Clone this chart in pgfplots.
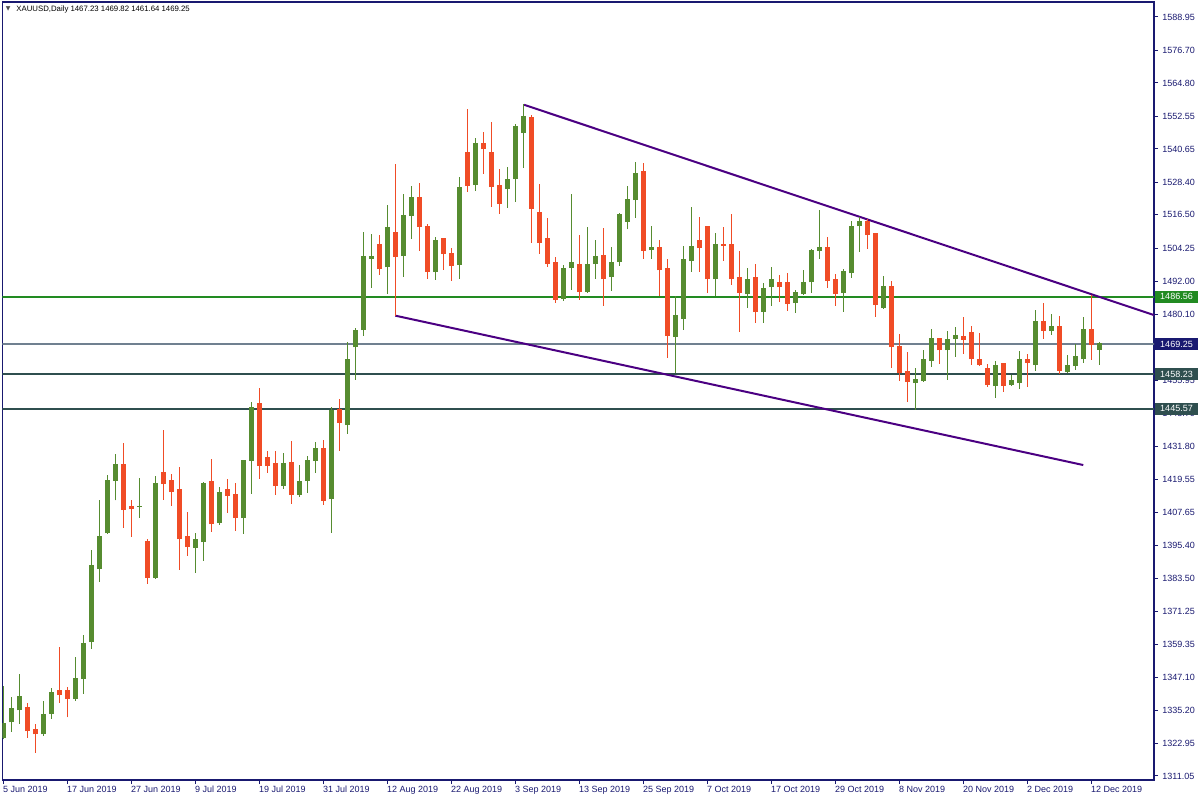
\documentclass[border=0pt]{standalone}
\usepackage{pgfplots}
\pgfplotsset{compat=1.18}
\usepackage{pgfplotstable}
\usepackage{fontspec}
\setmainfont{Liberation Sans}
\newfontfamily\symfont{DejaVu Sans}

\definecolor{bull}{RGB}{86,140,48}
\definecolor{bear}{RGB}{240,76,38}
\definecolor{mtnavy}{RGB}{25,25,112}
\definecolor{trend}{RGB}{75,0,130}
\definecolor{levgreen}{RGB}{34,139,34}
\definecolor{levgray}{RGB}{112,128,144}
\definecolor{levslate}{RGB}{47,79,79}

% daily candles, i = bar number from 5 Jun 2019
\pgfplotstableread{
i o h l c
0 1325.1 1344.0 1324.5 1330.1
1 1330.9 1340.0 1327.3 1335.6
2 1335.3 1348.4 1330.1 1340.3
5 1326.5 1338.5 1325.8 1333.4
6 1333.9 1343.3 1332.0 1341.8
9 1339.4 1354.6 1338.6 1346.6
10 1346.7 1362.7 1341.2 1359.7
11 1360.2 1393.8 1357.7 1388.3
12 1387.0 1412.1 1382.2 1398.9
13 1400.1 1421.3 1399.8 1419.1
14 1419.2 1429.0 1412.0 1425.0
17 1409.7 1420.0 1405.6 1409.9
19 1383.7 1420.9 1383.3 1418.0
24 1394.7 1400.0 1385.5 1397.5
25 1396.8 1418.7 1389.9 1418.0
27 1403.8 1416.9 1403.1 1415.0
30 1405.6 1426.8 1399.8 1426.4
31 1426.5 1448.0 1414.4 1445.8
35 1417.4 1429.3 1416.3 1425.3
37 1414.1 1424.9 1413.3 1418.7
38 1419.2 1428.2 1414.8 1426.7
39 1426.5 1433.3 1422.1 1430.8
41 1412.6 1446.2 1400.1 1444.7
43 1439.7 1470.0 1436.4 1463.7
44 1468.2 1475.1 1456.2 1474.3
45 1474.5 1510.2 1472.3 1501.4
46 1500.5 1509.5 1489.8 1501.1
48 1497.5 1520.1 1487.6 1511.7
50 1501.6 1524.1 1493.9 1516.1
51 1516.2 1527.1 1507.8 1523.0
54 1495.7 1508.4 1492.8 1507.3
57 1498.3 1530.4 1493.1 1526.7
59 1527.6 1544.6 1525.4 1542.8
63 1526.1 1534.0 1519.1 1529.3
64 1529.8 1549.8 1521.3 1548.7
65 1546.6 1557.1 1533.8 1552.7
70 1485.8 1498.2 1485.1 1496.7
71 1497.2 1524.1 1489.0 1498.9
73 1488.4 1512.1 1488.0 1498.5
74 1498.6 1507.3 1493.1 1501.4
76 1493.9 1504.7 1488.7 1498.9
77 1499.4 1517.2 1497.9 1516.8
78 1514.0 1527.1 1511.3 1522.3
79 1522.1 1535.9 1515.5 1531.5
81 1503.8 1512.4 1500.5 1504.7
84 1471.9 1486.9 1458.5 1479.5
85 1478.5 1505.1 1474.5 1500.0
86 1499.7 1519.4 1495.7 1505.1
89 1493.1 1509.9 1486.9 1505.5
93 1487.6 1497.0 1482.5 1493.0
95 1481.1 1491.6 1477.0 1489.7
96 1490.2 1497.4 1483.3 1492.7
99 1484.4 1489.0 1480.7 1487.9
100 1487.6 1496.3 1487.3 1491.9
101 1492.0 1504.0 1488.0 1503.3
102 1503.4 1518.3 1500.5 1504.4
105 1488.0 1496.7 1481.1 1495.6
106 1495.3 1514.3 1493.5 1512.4
107 1512.5 1515.7 1503.0 1513.9
110 1482.5 1494.1 1482.2 1490.1
114 1455.1 1460.4 1445.2 1456.4
115 1455.7 1467.0 1455.4 1463.4
116 1463.1 1474.7 1460.9 1471.1
118 1467.1 1474.0 1456.2 1470.7
119 1471.2 1475.4 1464.6 1472.5
124 1454.0 1463.0 1449.6 1461.5
126 1454.3 1457.9 1454.0 1455.7
127 1455.1 1466.7 1452.9 1463.7
129 1461.7 1481.7 1459.5 1477.3
131 1474.1 1480.2 1472.6 1475.8
133 1459.1 1465.2 1458.7 1461.5
134 1461.3 1469.2 1459.8 1464.5
135 1463.8 1479.1 1462.4 1474.7
137 1467.23 1469.82 1461.64 1469.25
}\upbars

\pgfplotstableread{
i o h l c
3 1336.3 1337.8 1325.1 1327.6
4 1327.9 1330.1 1319.5 1326.5
7 1342.2 1358.3 1337.9 1340.8
8 1342.2 1343.6 1332.6 1339.4
15 1425.0 1433.0 1402.0 1408.6
16 1409.7 1412.1 1398.7 1408.9
18 1396.8 1397.8 1381.5 1383.7
20 1422.0 1437.7 1412.2 1418.1
21 1419.1 1421.6 1410.0 1415.2
22 1415.8 1424.2 1386.6 1397.9
23 1398.9 1407.7 1391.7 1395.0
26 1418.7 1427.1 1400.5 1403.4
28 1415.8 1419.8 1407.5 1413.7
29 1414.3 1418.3 1400.9 1405.6
32 1447.3 1453.1 1419.9 1424.7
33 1427.8 1430.0 1422.1 1424.7
34 1425.3 1430.0 1414.1 1417.4
36 1426.0 1433.7 1410.8 1414.1
40 1431.1 1434.1 1410.4 1411.9
42 1445.4 1449.1 1430.2 1440.4
47 1505.5 1509.1 1494.6 1496.8
49 1510.2 1535.1 1479.6 1501.2
52 1523.0 1528.2 1503.4 1512.2
53 1512.4 1513.2 1493.1 1495.7
55 1507.7 1508.0 1496.4 1502.3
56 1502.5 1504.4 1492.4 1497.9
58 1539.2 1555.3 1525.0 1527.2
60 1542.5 1546.8 1531.6 1540.7
61 1539.2 1550.5 1519.5 1526.8
62 1527.4 1533.3 1516.9 1520.6
66 1552.3 1553.1 1506.3 1518.8
67 1517.2 1527.8 1502.3 1506.3
68 1508.0 1515.4 1497.5 1498.6
69 1498.9 1501.1 1484.4 1485.5
72 1498.5 1509.1 1485.5 1488.4
75 1501.8 1511.7 1483.3 1493.1
80 1532.2 1535.5 1500.5 1503.4
82 1504.4 1507.3 1486.9 1496.4
83 1496.7 1500.3 1464.2 1472.3
87 1507.3 1515.7 1495.7 1504.5
88 1512.1 1512.3 1488.0 1493.1
90 1505.8 1512.1 1499.7 1505.2
91 1505.5 1516.8 1490.9 1493.1
92 1493.7 1503.3 1473.7 1488.0
94 1493.7 1498.5 1477.0 1481.1
97 1491.9 1494.5 1484.7 1490.2
98 1491.6 1495.2 1481.4 1484.0
103 1504.4 1508.4 1489.8 1492.4
104 1492.7 1494.8 1483.3 1487.6
108 1513.9 1515.0 1504.1 1509.3
109 1509.5 1509.9 1479.2 1483.6
111 1490.1 1492.3 1460.6 1468.2
112 1468.2 1472.9 1455.8 1458.7
113 1459.3 1466.3 1448.1 1455.4
117 1471.1 1471.4 1462.0 1467.1
120 1472.1 1479.1 1465.7 1470.8
121 1473.6 1475.8 1461.7 1463.8
122 1463.7 1473.2 1461.3 1461.7
123 1460.1 1461.9 1453.6 1454.3
125 1461.9 1462.0 1451.8 1454.0
128 1463.7 1465.6 1453.6 1462.4
130 1477.3 1484.2 1471.2 1474.1
132 1475.8 1479.5 1458.4 1459.5
136 1474.7 1487.2 1463.5 1469.0
}\downbars

\pgfplotsset{candle/.style={only marks, mark=*, mark size=0pt, mark options={draw=none, fill=none}, forget plot,
  error bars/.cd, y dir=plus, y explicit, error mark=none}}

\begin{document}
\begin{tikzpicture}
\path[use as bounding box] (-1.15pt,-10pt) rectangle (598.85pt,390pt);
\begin{axis}[
  at={(0,0)}, anchor=south west,
  scale only axis, width=575.85pt, height=389pt,
  xmin=-0.125, xmax=143.84, ymin=1309.58, ymax=1594.44,
  axis line style={draw=mtnavy, line width=0.6pt},
  tick align=outside, major tick length=2pt,
  tick style={draw=mtnavy, line width=0.5pt},
  xtick pos=bottom, ytick pos=right, yticklabel pos=right,
  xtick={0,8,...,136},
  xticklabels={5 Jun 2019,17 Jun 2019,27 Jun 2019,9 Jul 2019,19 Jul 2019,31 Jul 2019,12 Aug 2019,22 Aug 2019,3 Sep 2019,13 Sep 2019,25 Sep 2019,7 Oct 2019,17 Oct 2019,29 Oct 2019,8 Nov 2019,20 Nov 2019,2 Dec 2019,12 Dec 2019},
  ytick={1311.05,1322.95,1335.20,1347.10,1359.35,1371.25,1383.50,1395.40,1407.65,1419.55,1431.80,1443.70,1455.95,1467.85,1480.10,1492.00,1504.25,1516.50,1528.40,1540.65,1552.55,1564.80,1576.70,1588.95},
  yticklabels={1311.05,1322.95,1335.20,1347.10,1359.35,1371.25,1383.50,1395.40,1407.65,1419.55,1431.80,1443.70,1455.95,,1480.10,1492.00,1504.25,1516.50,1528.40,1540.65,1552.55,1564.80,1576.70,1588.95},
  xticklabel style={font=\fontsize{4.5}{5}\selectfont, text=mtnavy, anchor=north west, inner sep=0pt, xshift=-0.3pt, yshift=-1pt},
  yticklabel style={font=\fontsize{4.5}{5}\selectfont, text=mtnavy, anchor=west, inner sep=0pt, xshift=2pt},
  clip=true,
]
% level lines
\addplot[levgreen, line width=1pt, forget plot] coordinates {(-1,1486.56) (150,1486.56)};
\addplot[levgray, line width=0.6pt, forget plot] coordinates {(-1,1469.25) (150,1469.25)};
\addplot[levslate, line width=1pt, forget plot] coordinates {(-1,1458.23) (150,1458.23)};
\addplot[levslate, line width=1pt, forget plot] coordinates {(-1,1445.57) (150,1445.57)};
% channel
\addplot[trend, line width=1pt, forget plot] coordinates {(65.1,1556.8) (143.84,1479.8)};
\addplot[trend, line width=1pt, forget plot] coordinates {(49.0,1479.6) (135.0,1424.9)};
% wicks
\addplot[candle, error bar style={bull, line width=0.5pt}]
  table[x=i, y=l, y error plus expr={\thisrow{h}-\thisrow{l}}] {\upbars};
\addplot[candle, error bar style={bear, line width=0.5pt}]
  table[x=i, y=l, y error plus expr={\thisrow{h}-\thisrow{l}}] {\downbars};
% bodies
\addplot[candle, error bar style={bull, line width=2.5pt}]
  table[x=i, y expr={\thisrow{o}-0.18}, y error plus expr={\thisrow{c}-\thisrow{o}+0.36}] {\upbars};
\addplot[candle, error bar style={bear, line width=2.5pt}]
  table[x=i, y expr={\thisrow{c}-0.18}, y error plus expr={\thisrow{o}-\thisrow{c}+0.36}] {\downbars};
\coordinate (lg) at (axis cs:143.84,1486.56);
\coordinate (lc) at (axis cs:143.84,1469.25);
\coordinate (ls) at (axis cs:143.84,1458.23);
\coordinate (lt) at (axis cs:143.84,1445.57);
\end{axis}
\tikzset{lvl/.style={anchor=west, inner xsep=1pt, inner ysep=0pt, minimum height=6pt, minimum width=21.5pt,
  text=white, font=\fontsize{4.5}{5}\selectfont, xshift=0.3pt}}
\node[lvl, fill=levgreen] at (lg) {1486.56};
\node[lvl, fill=mtnavy] at (lc) {1469.25};
\node[lvl, fill=levslate] at (ls) {1458.23};
\node[lvl, fill=levslate] at (lt) {1445.57};
\node[anchor=west, inner sep=0pt, text=black!70, font=\symfont\fontsize{3}{3}\selectfont] at (1.6pt,385.5pt) {▼};
\node[anchor=west, inner sep=0pt, font=\fontsize{3.9}{4.5}\selectfont] at (6.85pt,385.5pt)
  {XAUUSD,Daily 1467.23 1469.82 1461.64 1469.25};
\end{tikzpicture}
\end{document}
